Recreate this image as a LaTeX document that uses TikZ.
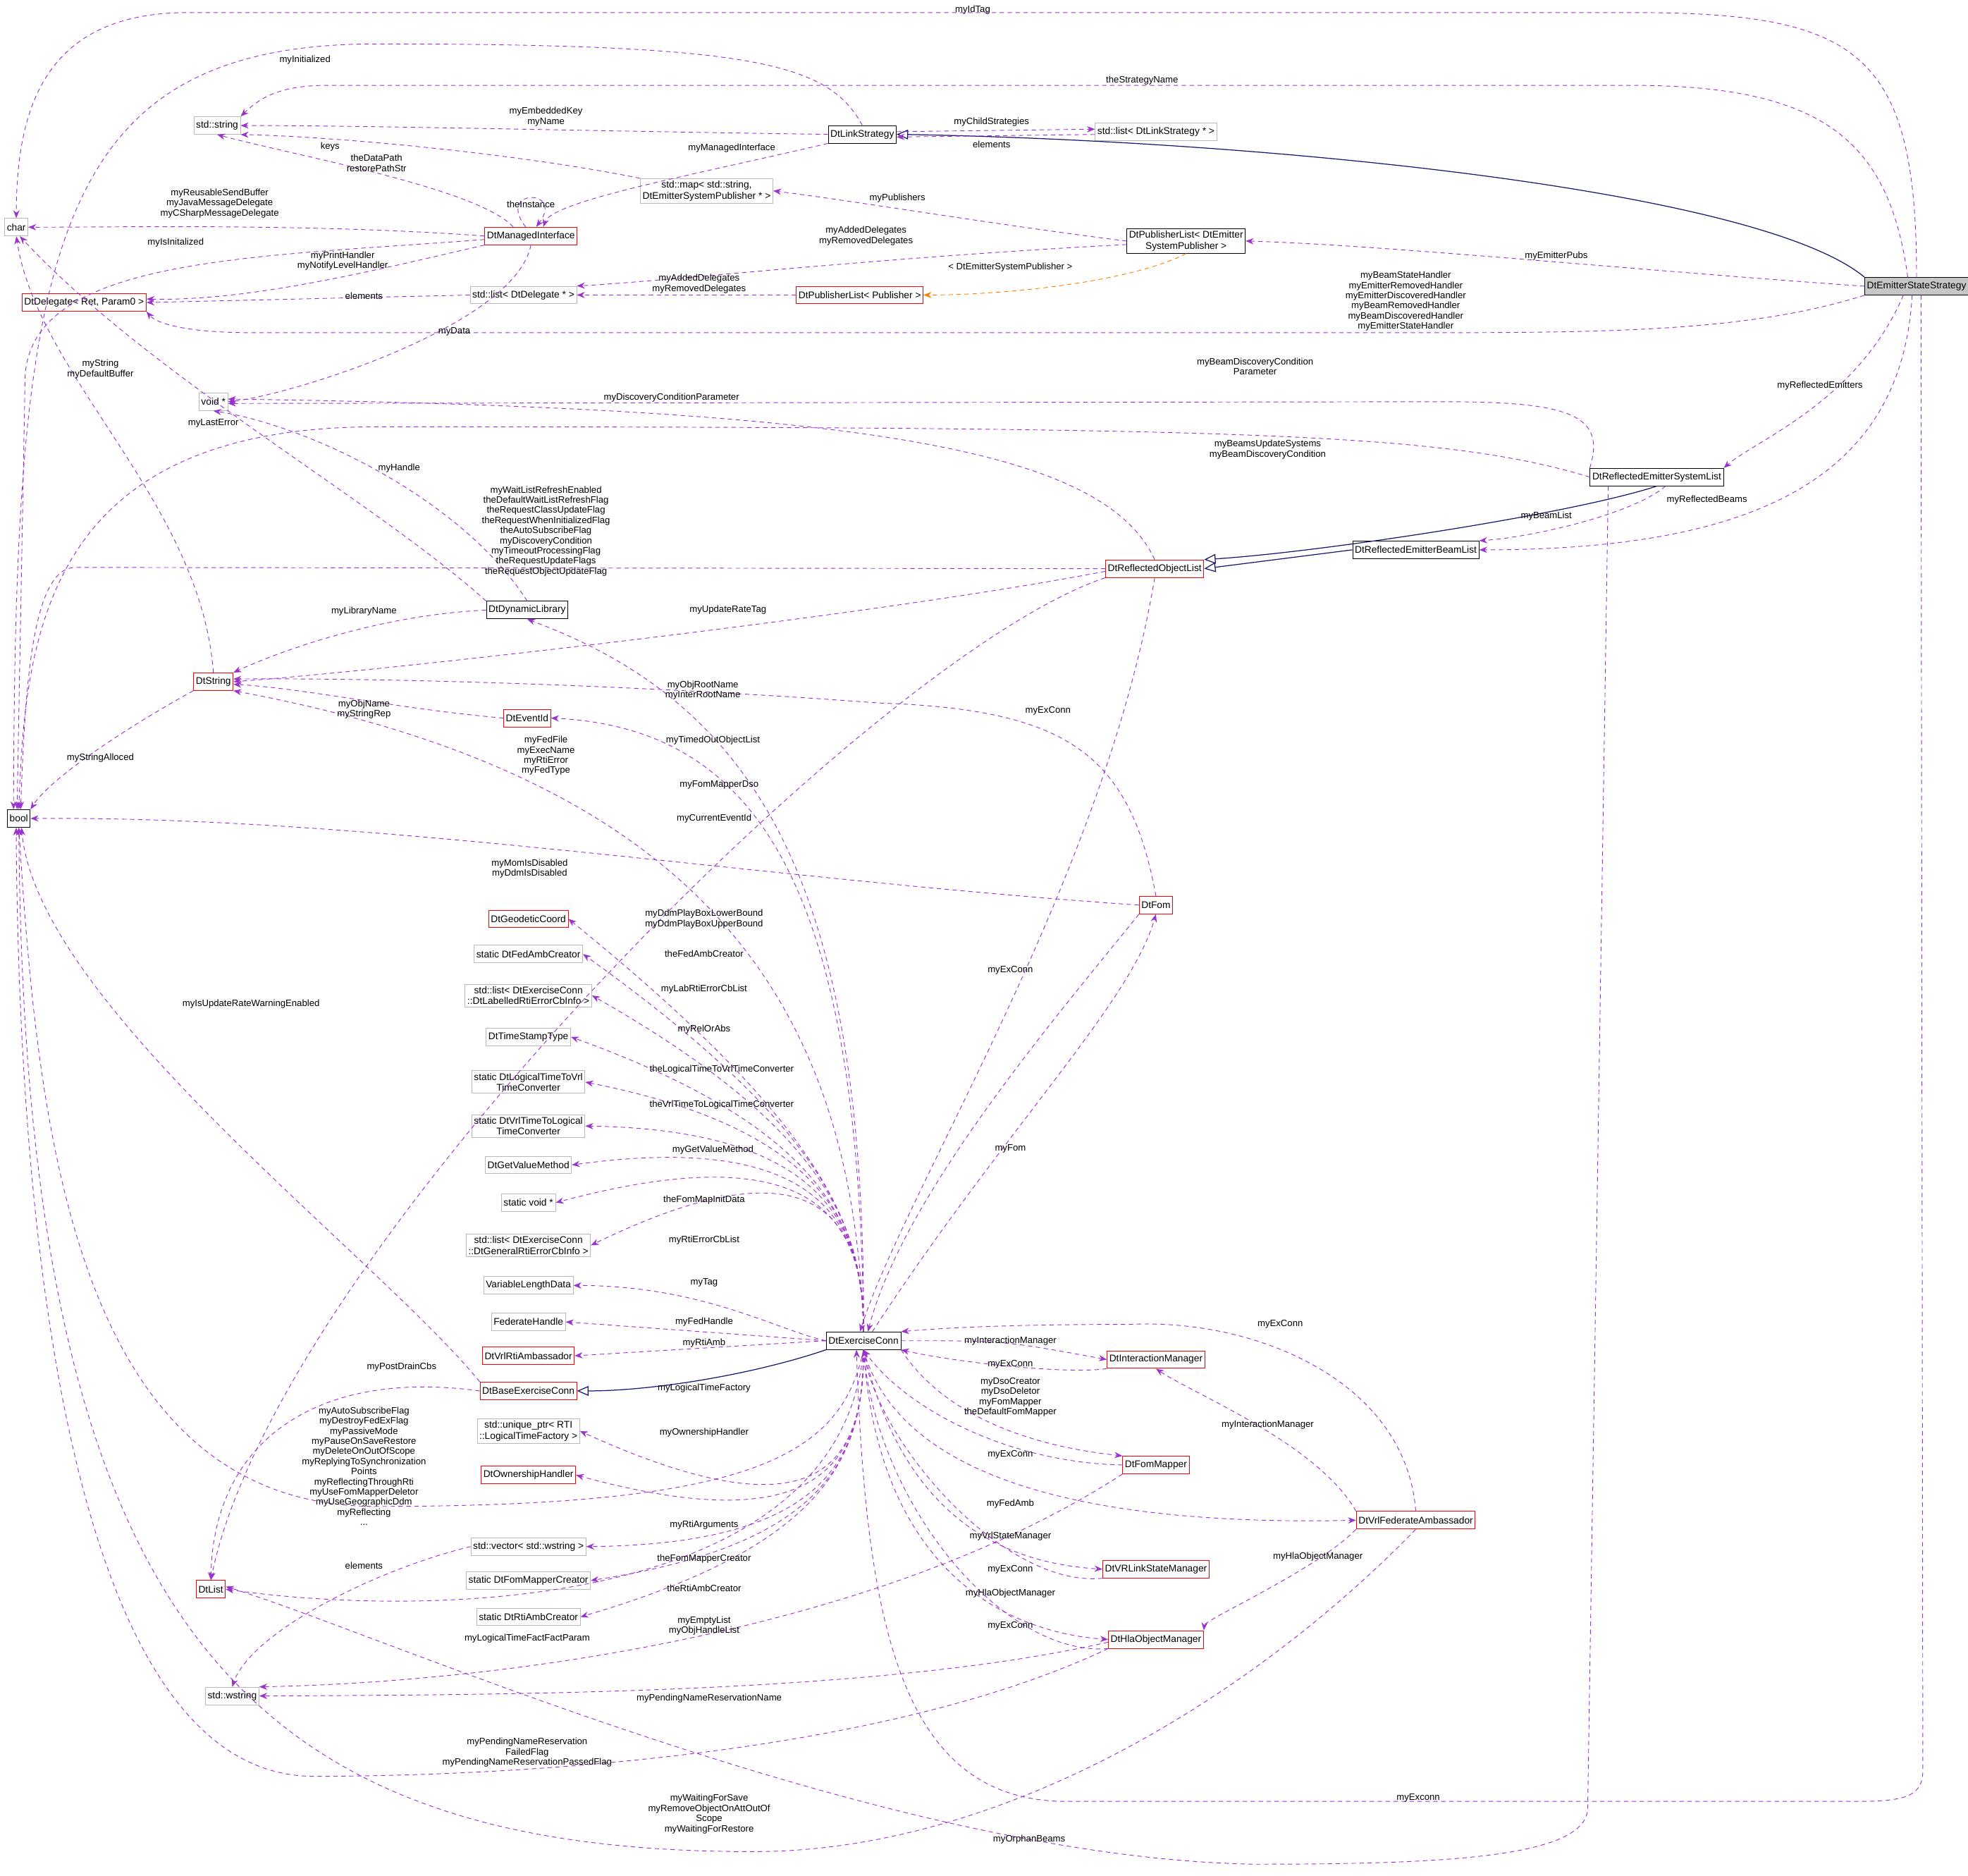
\documentclass[tikz,border=0pt]{standalone}
\usepackage{fontspec}
\setmainfont{Liberation Sans}
\usetikzlibrary{arrows.meta}
\begin{document}
\begin{tikzpicture}[x=0.5mm,y=-0.5mm,
  every node/.style={font=\fontsize{11}{12.5}\selectfont},
  box/.style={draw=black,fill=white,inner sep=2.5pt,minimum height=7mm,align=center,line width=0.7pt},
  gbox/.style={box,draw=gray!55},
  rbox/.style={box,draw=red},
  lab/.style={inner sep=0pt,align=center,font=\fontsize{10.5}{11.5}\selectfont},
  e/.style={draw={rgb,255:red,154;green,50;blue,205},line width=0.75pt,dash pattern=on 5pt off 4pt,-{Stealth[length=9pt,width=7pt,fill={rgb,255:red,154;green,50;blue,205}]}},
  inh/.style={draw={rgb,255:red,25;green,25;blue,112},line width=1pt,-{Triangle[open,length=13pt,width=11pt,fill=white]}},
  tpl/.style={draw=orange,line width=0.75pt,dash pattern=on 5pt off 4pt,-{Stealth[length=9pt,width=7pt]}}]
\useasboundingbox (0,0) rectangle (1568,1494);
% nodes
\node[box,fill=gray!45] (ess) at (1527,228) {DtEmitterStateStrategy};
\node[box] (link) at (687,107) {DtLinkStrategy};
\node[gbox] (str) at (173,100) {std::string};
\node[gbox] (char) at (13,181) {char};
\node[gbox] (lls) at (921,105) {std::list< DtLinkStrategy * >};
\node[gbox] (map) at (563,152) {std::map< std::string,\\DtEmitterSystemPublisher * >};
\node[rbox] (mi) at (423,188) {DtManagedInterface};
\node[box] (pubE) at (945,192) {DtPublisherList< DtEmitter\\SystemPublisher >};
\node[rbox] (dele) at (67,241) {DtDelegate< Ret, Param0 >};
\node[gbox] (dll) at (417,235) {std::list< DtDelegate * >};
\node[rbox] (pubP) at (685,235) {DtPublisherList< Publisher >};
\node[gbox] (void) at (170,320) {void *};
\node[box] (rsl) at (1320,380) {DtReflectedEmitterSystemList};
\node[box] (rbl) at (1128,438) {DtReflectedEmitterBeamList};
\node[rbox] (rol) at (920,453) {DtReflectedObjectList};
\node[box] (dyn) at (420,486) {DtDynamicLibrary};
\node[rbox] (dts) at (170,543) {DtString};
\node[rbox] (evt) at (420,572) {DtEventId};
\node[box] (bool) at (15,652) {bool};
\node[rbox] (fom) at (921,721) {DtFom};
\node[rbox] (geo) at (421,732) {DtGeodeticCoord};
\node[gbox] (fac) at (421,760) {static DtFedAmbCreator};
\node[gbox] (lbl) at (421,793) {std::list< DtExerciseConn\\::DtLabelledRtiErrorCbInfo >};
\node[gbox] (tst) at (421,826) {DtTimeStampType};
\node[gbox] (l2v) at (421,862) {static DtLogicalTimeToVrl\\TimeConverter};
\node[gbox] (v2l) at (421,897) {static DtVrlTimeToLogical\\TimeConverter};
\node[gbox] (gvm) at (421,928) {DtGetValueMethod};
\node[gbox] (svd) at (421,958) {static void *};
\node[gbox] (gen) at (421,992) {std::list< DtExerciseConn\\::DtGeneralRtiErrorCbInfo >};
\node[gbox] (vld) at (421,1024) {VariableLengthData};
\node[gbox] (fh) at (421,1053) {FederateHandle};
\node[rbox] (vra) at (421,1080) {DtVrlRtiAmbassador};
\node[rbox] (base) at (421,1108) {DtBaseExerciseConn};
\node[gbox] (uptr) at (421,1140) {std::unique\_ptr< RTI\\::LogicalTimeFactory >};
\node[rbox] (own) at (421,1175) {DtOwnershipHandler};
\node[gbox] (vec) at (421,1232) {std::vector< std::wstring >};
\node[gbox] (fmc) at (421,1259) {static DtFomMapperCreator};
\node[gbox] (rac) at (421,1288) {static DtRtiAmbCreator};
\node[box] (ec) at (688,1068) {DtExerciseConn};
\node[rbox] (im) at (921,1083) {DtInteractionManager};
\node[rbox] (fm) at (921,1167) {DtFomMapper};
\node[rbox] (vfa) at (1128,1211) {DtVrlFederateAmbassador};
\node[rbox] (vsm) at (921,1250) {DtVRLinkStateManager};
\node[rbox] (hom) at (921,1306) {DtHlaObjectManager};
\node[rbox] (dtlist) at (168,1266) {DtList};
\node[gbox] (wstr) at (185,1351) {std::wstring};
% edges
\draw[e] (ess.north) .. controls (1527,40) and (1480,10) .. (1300,10) -- (150,10) .. controls (40,10) and (13,80) .. (char.north);
\draw[e] ([xshift=-10]ess.north) .. controls (1505,110) and (1450,68) .. (1300,68) -- (260,68) .. controls (220,68) and (205,80) .. (str.north east);
\draw[inh] (ess.north west) .. controls (1400,150) and (1000,112) .. (link.east);
\draw[e] (ess.west) .. controls (1300,215) and (1100,195) .. (pubE.east);
\draw[e] (ess.south west) .. controls (1400,262) and (1300,265) .. (1150,265) -- (200,265) .. controls (150,265) and (125,258) .. (dele.south east);
\draw[e] ([xshift=-15]ess.south) .. controls (1480,320) and (1400,350) .. (rsl.north east);
\draw[e] ([xshift=-5]ess.south) .. controls (1515,380) and (1400,438) .. (rbl.east);
\draw[e] ([xshift=5]ess.south) -- (1532,1410) .. controls (1532,1430) and (1520,1435) .. (1480,1435) -- (850,1435) .. controls (720,1435) and (690,1300) .. ([xshift=-8]ec.south);
\draw[e] (link.west) .. controls (500,105) and (300,100) .. (str.east);
\draw[e] (link.north) .. controls (660,50) and (600,35) .. (300,35) .. controls (40,35) and (12,200) .. ([xshift=-6]bool.north);
\draw[e] ([yshift=3]link.east) -- ([yshift=3]lls.west);
\draw[e] ([yshift=-3]lls.west) -- ([yshift=-3]link.east);
\draw[e] (link.south west) .. controls (550,140) and (440,160) .. ([xshift=14]mi.north);
\draw[e] (map.north west) .. controls (400,120) and (250,108) .. (str.south east);
\draw[e] (pubE.west) .. controls (800,180) and (680,160) .. (map.east);
\draw[e] ([yshift=-4]pubE.west) .. controls (700,205) and (520,225) .. (dll.north east);
\draw[tpl] (pubE.south) .. controls (900,225) and (800,235) .. (pubP.east);
\draw[e] (pubP.west) -- (dll.east);
\draw[e] (dll.west) -- (dele.east);
\draw[e] ([xshift=-6]mi.north) .. controls (395,150) and (450,150) .. ([xshift=6]mi.north);
\draw[e] ([xshift=-20]mi.north) .. controls (380,150) and (240,125) .. (str.south);
\draw[e] (mi.west) .. controls (250,178) and (100,181) .. (char.east);
\draw[e] ([yshift=-4]mi.west) .. controls (200,205) and (25,205) .. (20,300) -- ([xshift=-2]bool.north);
\draw[e] (mi.south west) .. controls (300,215) and (200,240) .. ([yshift=4]dele.east);
\draw[e] (mi.south) .. controls (410,260) and (230,315) .. (void.east);
\draw[e] (rsl.north west) .. controls (1280,330) and (1250,320) .. (1150,320) -- ([yshift=-2]void.east);
\draw[e] (rsl.west) .. controls (1150,345) and (1000,340) .. (300,340) .. controls (40,340) and (20,500) .. (bool.north);
\draw[inh] (rsl.south) .. controls (1250,410) and (1050,440) .. (rol.north east);
\draw[inh] (rbl.west) -- (rol.east);
\draw[e] ([xshift=10]rsl.south) .. controls (1300,410) and (1220,428) .. (rbl.north east);
\draw[e] ([xshift=-55]rsl.south) -- (1265,1440) .. controls (1265,1480) and (1150,1485) .. (1000,1485) .. controls (700,1480) and (300,1300) .. ([yshift=3]dtlist.east);
\draw[e] (rol.north) .. controls (880,360) and (700,325) .. ([yshift=3]void.east);
\draw[e] (rol.west) -- (60,452) .. controls (25,452) and (20,550) .. ([xshift=2]bool.north);
\draw[e] ([yshift=-3]rol.west) .. controls (700,490) and (300,535) .. (dts.east);
\draw[e] (rol.south west) .. controls (700,520) and (220,1000) .. (dtlist.north);
\draw[e] (rol.south) .. controls (880,700) and (720,950) .. ([xshift=-4]ec.north);
\draw[e] (dyn.north) .. controls (370,400) and (250,340) .. (void.south);
\draw[e] (dyn.north west) .. controls (300,400) and (120,300) .. ([xshift=4]char.south);
\draw[e] (dyn.west) .. controls (300,490) and (220,520) .. (dts.north east);
\draw[e] (dts.north) .. controls (160,400) and (30,300) .. (char.south);
\draw[e] (dts.south west) .. controls (100,580) and (40,620) .. (bool.north east);
\draw[e] (evt.west) .. controls (320,565) and (240,548) .. ([yshift=-3]dts.east);
\draw[e] (fom.north) .. controls (900,600) and (850,565) .. (700,560) .. controls (500,545) and (300,540) .. ([yshift=3]dts.east);
\draw[e] (fom.west) .. controls (600,700) and (300,650) .. (bool.east);
\draw[e] (ec.north) .. controls (680,800) and (560,620) .. (dts.south east);
\draw[e] (ec.north) .. controls (685,700) and (600,580) .. (evt.east);
\draw[e] (ec.north) .. controls (690,700) and (600,560) .. (dyn.south);
\draw[e] ([xshift=10]ec.north) .. controls (800,900) and (900,800) .. (fom.south);
\draw[e] (fom.south west) .. controls (850,800) and (720,950) .. ([xshift=5]ec.north);
\foreach \n in {geo,fac,lbl,tst,l2v,v2l,gvm,svd,gen}{
  \draw[e] (ec.north) .. controls (688,980) and (660,{900}) .. (\n.east);}
\draw[e] (ec.west) .. controls (620,1060) and (560,1024) .. (vld.east);
\draw[e] (ec.west) -- (fh.east);
\draw[e] (ec.west) -- (vra.east);
\draw[inh] (ec.south west) .. controls (600,1095) and (520,1108) .. (base.east);
\foreach \n in {uptr,own,vec,fmc,rac}{
  \draw[e] (ec.south) .. controls (688,1160) and (660,1230) .. (\n.east);}
\draw[e] (ec.south) .. controls (670,1160) and (600,1200) .. (300,1200) .. controls (60,1200) and (30,900) .. (bool.south);
\draw[e] (ec.south) .. controls (670,1280) and (350,1290) .. (dtlist.east);
\draw[e] (ec.east) .. controls (800,1068) .. (im.west);
\draw[e] (im.south west) .. controls (850,1095) and (760,1085) .. (ec.south east);
\draw[e] (ec.south east) .. controls (760,1140) and (850,1155) .. (fm.north west);
\draw[e] (fm.west) .. controls (800,1165) and (720,1120) .. (ec.south);
\draw[e] (ec.south) .. controls (720,1190) and (900,1215) .. (vfa.west);
\draw[e] (ec.south) .. controls (720,1210) and (800,1245) .. (vsm.west);
\draw[e] (vsm.south west) .. controls (800,1265) and (700,1150) .. (ec.south);
\draw[e] (ec.south) .. controls (700,1250) and (800,1300) .. (hom.west);
\draw[e] (hom.south west) .. controls (800,1320) and (700,1200) .. (ec.south);
\draw[e] (vfa.north) .. controls (1120,1100) and (1000,1050) .. (900,1055) .. controls (800,1055) and (750,1058) .. (ec.north east);
\draw[e] (vfa.north west) .. controls (1050,1150) and (950,1110) .. (im.south);
\draw[e] (vfa.south west) .. controls (1050,1250) and (960,1290) .. (hom.north east);
\draw[e] (vfa.south) .. controls (1000,1350) and (800,1475) .. (600,1475) .. controls (200,1475) and (20,1300) .. (bool.south);
\draw[e] ([yshift=-3]hom.west) .. controls (700,1350) and (400,1350) .. (wstr.east);
\draw[e] (hom.south west) .. controls (700,1400) and (400,1415) .. (250,1415) .. controls (60,1415) and (15,1000) .. ([xshift=-3]bool.south);
\draw[e] (fm.south west) .. controls (700,1300) and (400,1340) .. (wstr.north east);
\draw[e] (vec.west) .. controls (300,1250) and (200,1300) .. (wstr.north);
\draw[e] (base.west) .. controls (250,1090) and (170,1150) .. (dtlist.north);
\draw[e] (base.north west) .. controls (300,1000) and (30,800) .. ([xshift=3]bool.south);
% labels
\node[lab] (l1) at (775,8) {myIdTag};
\node[lab] (l2) at (910,64) {theStrategyName};
\node[lab] (l4) at (1240,204) {myEmitterPubs};
\node[lab] (l5) at (1120,240) {myBeamStateHandler\\myEmitterRemovedHandler\\myEmitterDiscoveredHandler\\myBeamRemovedHandler\\myBeamDiscoveredHandler\\myEmitterStateHandler};
\node[lab] (l6) at (1450,307) {myReflectedEmitters};
\node[lab] (l7) at (1360,398) {myReflectedBeams};
\node[lab] (l8) at (1130,1432) {myExconn};
\node[lab] (l9) at (435,93) {myEmbeddedKey\\myName};
\node[lab] (l10) at (243,48) {myInitialized};
\node[lab] (l11) at (790,97) {myChildStrategies};
\node[lab] (l12) at (790,115) {elements};
\node[lab] (l13) at (583,118) {myManagedInterface};
\node[lab] (l14) at (263,117) {keys};
\node[lab] (l15) at (715,158) {myPublishers};
\node[lab] (l16) at (690,188) {myAddedDelegates\\myRemovedDelegates};
\node[lab] (l17) at (805,213) {< DtEmitterSystemPublisher >};
\node[lab] (l18) at (557,226) {myAddedDelegates\\myRemovedDelegates};
\node[lab] (l19) at (290,236) {elements};
\node[lab] (l20) at (423,163) {theInstance};
\node[lab] (l21) at (300,130) {theDataPath\\restorePathStr};
\node[lab] (l22) at (175,162) {myReusableSendBuffer\\myJavaMessageDelegate\\myCSharpMessageDelegate};
\node[lab] (l23) at (140,193) {myIsInitalized};
\node[lab] (l24) at (273,208) {myPrintHandler\\myNotifyLevelHandler};
\node[lab] (l25) at (362,264) {myData};
\node[lab] (l26) at (1000,292) {myBeamDiscoveryCondition\\Parameter};
\node[lab] (l27) at (1010,358) {myBeamsUpdateSystems\\myBeamDiscoveryCondition};
\node[lab] (l30) at (1232,411) {myBeamList};
\node[lab] (l31) at (820,1465) {myOrphanBeams};
\node[lab] (l32) at (535,317) {myDiscoveryConditionParameter};
\node[lab] (l33) at (435,423) {myWaitListRefreshEnabled\\theDefaultWaitListRefreshFlag\\theRequestClassUpdateFlag\\theRequestWhenInitializedFlag\\theAutoSubscribeFlag\\myDiscoveryCondition\\myTimeoutProcessingFlag\\theRequestUpdateFlags\\theRequestObjectUpdateFlag};
\node[lab] (l34) at (580,486) {myUpdateRateTag};
\node[lab] (l35) at (568,590) {myTimedOutObjectList};
\node[lab] (l36) at (835,566) {myExConn};
\node[lab] (l37) at (318,373) {myHandle};
\node[lab] (l38) at (170,337) {myLastError};
\node[lab] (l39) at (290,487) {myLibraryName};
\node[lab] (l40) at (80,294) {myString\\myDefaultBuffer};
\node[lab] (l41) at (80,604) {myStringAlloced};
\node[lab] (l42) at (290,565) {myObjName\\myStringRep};
\node[lab] (l43) at (560,550) {myObjRootName\\myInterRootName};
\node[lab] (l44) at (422,692) {myMomIsDisabled\\myDdmIsDisabled};
\node[lab] (l45) at (435,602) {myFedFile\\myExecName\\myRtiError\\myFedType};
\node[lab] (l46) at (569,652) {myCurrentEventId};
\node[lab] (l47) at (573,625) {myFomMapperDso};
\node[lab] (l48) at (805,915) {myFom};
\node[lab] (l49) at (805,773) {myExConn};
\node[lab] (l50) at (561,732) {myDdmPlayBoxLowerBound\\myDdmPlayBoxUpperBound};
\node[lab] (l51) at (561,760) {theFedAmbCreator};
\node[lab] (l52) at (561,788) {myLabRtiErrorCbList};
\node[lab] (l53) at (561,820) {myRelOrAbs};
\node[lab] (l54) at (575,852) {theLogicalTimeToVrlTimeConverter};
\node[lab] (l55) at (575,880) {theVrlTimeToLogicalTimeConverter};
\node[lab] (l56) at (568,916) {myGetValueMethod};
\node[lab] (l57) at (561,956) {theFomMapInitData};
\node[lab] (l58) at (561,988) {myRtiErrorCbList};
\node[lab] (l59) at (561,1022) {myTag};
\node[lab] (l60) at (561,1053) {myFedHandle};
\node[lab] (l61) at (561,1070) {myRtiAmb};
\node[lab] (l63) at (561,1106) {myLogicalTimeFactory};
\node[lab] (l64) at (561,1141) {myOwnershipHandler};
\node[lab] (l65) at (290,1168) {myAutoSubscribeFlag\\myDestroyFedExFlag\\myPassiveMode\\myPauseOnSaveRestore\\myDeleteOnOutOfScope\\myReplyingToSynchronization\\Points\\myReflectingThroughRti\\myUseFomMapperDeletor\\myUseGeographicDdm\\myReflecting\\...};
\node[lab] (l66) at (561,1215) {myRtiArguments};
\node[lab] (l67) at (561,1242) {theFomMapperCreator};
\node[lab] (l68) at (561,1265) {theRtiAmbCreator};
\node[lab] (l69) at (561,1295) {myEmptyList\\myObjHandleList};
\node[lab] (l70) at (805,1068) {myInteractionManager};
\node[lab] (l71) at (805,1087) {myExConn};
\node[lab] (l72) at (805,1113) {myDsoCreator\\myDsoDeletor\\myFomMapper\\theDefaultFomMapper};
\node[lab] (l73) at (805,1159) {myExConn};
\node[lab] (l74) at (805,1198) {myFedAmb};
\node[lab] (l75) at (805,1224) {myVrlStateManager};
\node[lab] (l76) at (805,1250) {myExConn};
\node[lab] (l77) at (805,1269) {myHlaObjectManager};
\node[lab] (l78) at (805,1295) {myExConn};
\node[lab] (l79) at (1020,1055) {myExConn};
\node[lab] (l80) at (1010,1135) {myInteractionManager};
\node[lab] (l81) at (1050,1240) {myHlaObjectManager};
\node[lab] (l82) at (565,1445) {myWaitingForSave\\myRemoveObjectOnAttOutOf\\Scope\\myWaitingForRestore};
\node[lab] (l83) at (565,1353) {myPendingNameReservationName};
\node[lab] (l84) at (420,1396) {myPendingNameReservation\\FailedFlag\\myPendingNameReservationPassedFlag};
\node[lab] (l85) at (420,1305) {myLogicalTimeFactFactParam};
\node[lab] (l86) at (290,1247) {elements};
\node[lab] (l87) at (320,1089) {myPostDrainCbs};
\node[lab] (l88) at (200,800) {myIsUpdateRateWarningEnabled};
\end{tikzpicture}
\end{document}
